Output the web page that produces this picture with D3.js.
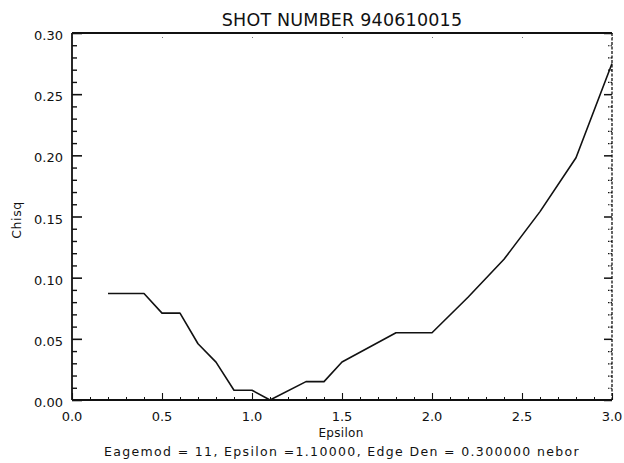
<!DOCTYPE html>
<html>
<head>
<meta charset="utf-8">
<script src="https://cdn.jsdelivr.net/npm/d3@7"></script>
<style>
  html, body { margin: 0; padding: 0; background: #fff; }
  svg { display: block; }
  text { font-family: "DejaVu Sans", "Liberation Sans", sans-serif; fill: #111; }
</style>
</head>
<body>
<svg id="chart" width="624" height="463"></svg>
<script>
// Chi-square of the edge-model fit versus epsilon
const epsilon = [0.2, 0.3, 0.4, 0.5, 0.6, 0.7, 0.8, 0.9, 1.0, 1.1, 1.3, 1.4, 1.5, 1.8, 1.9, 2.0, 2.2, 2.4, 2.6, 2.8, 3.0];
const chisq   = [0.087, 0.087, 0.087, 0.071, 0.071, 0.046, 0.031, 0.008, 0.008, 0.000, 0.015, 0.015, 0.031, 0.055, 0.055, 0.055, 0.084, 0.115, 0.154, 0.198, 0.275];

const xTicks = [0.0, 0.5, 1.0, 1.5, 2.0, 2.5, 3.0];
const yTicks = [0.00, 0.05, 0.10, 0.15, 0.20, 0.25, 0.30];

const titleText = "SHOT NUMBER 940610015";
const xTitle = "Epsilon";
const yTitle = "Chisq";
const noteText = "Eagemod = 11, Epsilon =1.10000, Edge Den = 0.300000 nebor";

const svg = d3.select("#chart");
const plotL = 72, plotR = 612, plotT = 33, plotB = 400;

const x = d3.scaleLinear().domain([0, 3]).range([plotL, plotR]);
const y = d3.scaleLinear().domain([0, 0.30]).range([plotB, plotT]);

const ink = "#111";

// minor tick values
const xMinor = d3.range(0, 3.0001, 0.1).filter(v => Math.abs(v * 2 - Math.round(v * 2)) > 1e-6);
const yMinor = d3.range(0, 0.30001, 0.01).filter(v => Math.abs(v * 20 - Math.round(v * 20)) > 1e-6);

// left axis
const gL = svg.append("g").attr("transform", `translate(${plotL},0)`)
  .call(d3.axisRight(y).tickValues(yTicks).tickSize(10).tickFormat(""));
gL.select(".domain").remove();
gL.selectAll("line").attr("stroke", ink).attr("stroke-width", 1.6);
gL.append("g").call(d3.axisRight(y).tickValues(yMinor).tickSize(5).tickFormat(""))
  .call(g => g.select(".domain").remove())
  .selectAll("line").attr("stroke", ink).attr("stroke-width", 1.4);

// left tick labels
svg.append("g").selectAll("text").data(yTicks).join("text")
  .attr("x", plotL - 9).attr("y", d => y(d) + 7)
  .attr("text-anchor", "end").attr("font-size", 13)
  .text(d => d3.format(".2f")(d));

// right axis (ticks point inward)
const gR = svg.append("g").attr("transform", `translate(${plotR},0)`)
  .call(d3.axisLeft(y).tickValues(yTicks).tickSize(8).tickFormat(""));
gR.select(".domain").remove();
gR.selectAll("line").attr("stroke", ink).attr("stroke-width", 1.5);
gR.append("g").call(d3.axisLeft(y).tickValues(yMinor).tickSize(4).tickFormat(""))
  .call(g => g.select(".domain").remove())
  .selectAll("line").attr("stroke", ink).attr("stroke-width", 1.2).attr("stroke-dasharray", "1.5,1");

// bottom axis (ticks point up)
const gB = svg.append("g").attr("transform", `translate(0,${plotB})`)
  .call(d3.axisTop(x).tickValues(xTicks).tickSize(7).tickFormat(""));
gB.select(".domain").remove();
gB.selectAll("line").attr("stroke", ink).attr("stroke-width", 1.1);
gB.append("g").call(d3.axisTop(x).tickValues(xMinor).tickSize(3).tickFormat(""))
  .call(g => g.select(".domain").remove())
  .selectAll("line").attr("stroke", ink).attr("stroke-width", 1);

svg.append("g").selectAll("text").data(xTicks).join("text")
  .attr("x", d => x(d)).attr("y", plotB + 21)
  .attr("text-anchor", "middle").attr("font-size", 13)
  .text(d => d3.format(".1f")(d));

// top axis (faint ticks pointing down)
const gT = svg.append("g").attr("transform", `translate(0,${plotT})`)
  .call(d3.axisBottom(x).tickValues(xTicks).tickSize(6).tickFormat(""));
gT.select(".domain").remove();
gT.selectAll("line").attr("stroke", "#777").attr("stroke-width", 1).attr("stroke-dasharray", "1,3");

// frame
svg.append("line").attr("x1", plotL).attr("x2", plotR).attr("y1", plotT).attr("y2", plotT)
  .attr("stroke", ink).attr("stroke-width", 2);
svg.append("line").attr("x1", plotL).attr("x2", plotR).attr("y1", plotB).attr("y2", plotB)
  .attr("stroke", ink).attr("stroke-width", 2);
svg.append("line").attr("x1", plotL).attr("x2", plotL).attr("y1", plotT).attr("y2", plotB)
  .attr("stroke", ink).attr("stroke-width", 1.8);
svg.append("line").attr("x1", plotR).attr("x2", plotR).attr("y1", plotT).attr("y2", plotB)
  .attr("stroke", ink).attr("stroke-width", 1.3).attr("stroke-dasharray", "3,1.5");

// data curve
const pts = epsilon.map((e, i) => [e, chisq[i]]);
svg.append("path").datum(pts)
  .attr("fill", "none").attr("stroke", ink).attr("stroke-width", 1.6)
  .attr("stroke-linejoin", "round")
  .attr("d", d3.line().x(d => x(d[0])).y(d => y(d[1])));

// titles
svg.append("text").attr("x", 342).attr("y", 26).attr("text-anchor", "middle")
  .attr("font-size", 17.5).attr("letter-spacing", 0.2).text(titleText);
svg.append("text").attr("x", 341).attr("y", 437).attr("text-anchor", "middle")
  .attr("font-size", 12).attr("letter-spacing", 0.3).text(xTitle);
svg.append("text").attr("transform", "translate(21,220) rotate(-90)").attr("text-anchor", "middle")
  .attr("font-size", 12.5).attr("letter-spacing", 0.6).text(yTitle);
svg.append("text").attr("x", 342).attr("y", 456).attr("text-anchor", "middle")
  .attr("font-size", 12.5).attr("letter-spacing", 1.35).text(noteText);
</script>
</body>
</html>
